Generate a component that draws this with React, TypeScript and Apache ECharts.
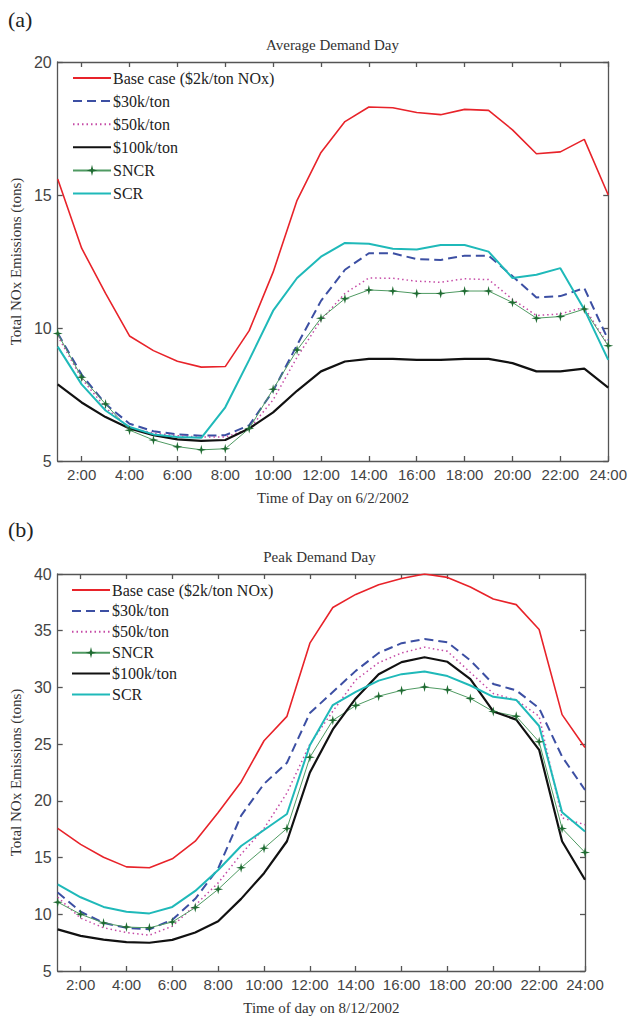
import React, { useEffect, useRef } from "react";
import * as echarts from "echarts";

const hours = [1, 2, 3, 4, 5, 6, 7, 8, 9, 10, 11, 12, 13, 14, 15, 16, 17, 18, 19, 20, 21, 22, 23, 24];
const hourTicks = [2, 4, 6, 8, 10, 12, 14, 16, 18, 20, 22, 24];

const legendBase = "Base case ($2k/ton NOx)";
const legend30k = "$30k/ton";
const legend50k = "$50k/ton";
const legend100k = "$100k/ton";
const legendSNCR = "SNCR";
const legendSCR = "SCR";

// (a) Average Demand Day, 6/2/2002
const avgBase = [15.6, 13.0, 11.3, 9.7, 9.15, 8.75, 8.53, 8.55, 9.9, 12.1, 14.8, 16.6, 17.76, 18.31, 18.28, 18.1, 18.02, 18.22, 18.18, 17.45, 16.55, 16.62, 17.09, 15.0];
const avg30k = [9.8, 8.25, 7.14, 6.4, 6.12, 6.0, 5.95, 5.97, 6.34, 7.64, 9.36, 11.02, 12.19, 12.81, 12.81, 12.59, 12.56, 12.72, 12.72, 11.95, 11.15, 11.2, 11.5, 9.55];
const avg50k = [9.7, 8.1, 7.0, 6.25, 6.05, 5.95, 5.9, 5.9, 6.2, 7.3, 8.9, 10.3, 11.3, 11.88, 11.87, 11.76, 11.72, 11.85, 11.82, 11.08, 10.47, 10.53, 10.78, 9.36];
const avg100k = [7.88, 7.2, 6.65, 6.22, 5.97, 5.81, 5.76, 5.79, 6.22, 6.83, 7.64, 8.37, 8.74, 8.84, 8.84, 8.8, 8.8, 8.84, 8.84, 8.68, 8.37, 8.37, 8.47, 7.76];
const avgSNCR = [9.79, 8.15, 7.14, 6.16, 5.79, 5.54, 5.42, 5.46, 6.22, 7.7, 9.17, 10.37, 11.1, 11.43, 11.39, 11.3, 11.3, 11.39, 11.39, 10.96, 10.37, 10.43, 10.71, 9.33];
const avgSCR = [9.3, 7.88, 6.9, 6.28, 6.0, 5.9, 5.87, 7.02, 8.8, 10.65, 11.88, 12.68, 13.2, 13.17, 12.98, 12.95, 13.12, 13.12, 12.87, 11.88, 12.0, 12.25, 10.7, 8.8];

// (b) Peak Demand Day, 8/12/2002
const peakBase = [17.57, 16.16, 15.03, 14.18, 14.1, 14.89, 16.44, 18.98, 21.67, 25.3, 27.45, 33.9, 37.05, 38.2, 39.05, 39.6, 40.0, 39.7, 38.85, 37.8, 37.3, 35.1, 27.6, 24.7];
const peak30k = [11.92, 10.23, 9.24, 8.81, 8.67, 9.52, 11.36, 14.04, 18.7, 21.5, 23.36, 27.74, 29.6, 31.46, 33.04, 33.9, 34.27, 33.98, 32.38, 30.3, 29.74, 28.17, 23.9, 20.96];
const peak50k = [11.5, 9.66, 8.81, 8.39, 8.16, 8.95, 10.8, 12.77, 15.3, 17.57, 20.7, 25.0, 27.9, 30.66, 32.18, 33.04, 33.55, 33.18, 31.32, 29.46, 28.9, 27.45, 18.5, 17.9];
const peakSNCR = [11.07, 10.0, 9.24, 8.87, 8.81, 9.32, 10.59, 12.2, 14.1, 15.82, 17.57, 23.84, 27.1, 28.4, 29.23, 29.74, 30.03, 29.8, 29.03, 27.88, 27.45, 25.2, 17.57, 15.45];
const peak100k = [8.67, 8.1, 7.77, 7.54, 7.49, 7.74, 8.39, 9.38, 11.36, 13.62, 16.44, 22.5, 26.3, 29.03, 31.17, 32.23, 32.66, 32.26, 30.74, 27.88, 27.16, 24.5, 16.44, 13.05];
const peakSCR = [12.63, 11.5, 10.65, 10.23, 10.08, 10.65, 12.06, 13.9, 16.02, 17.43, 18.84, 24.9, 28.45, 29.6, 30.6, 31.17, 31.4, 31.0, 30.17, 29.17, 28.9, 26.6, 19.0, 17.3];

const SERIF = "'Liberation Serif', 'Times New Roman', serif";
const SANS = "'Liberation Sans', Arial, sans-serif";
const STAR = "path://M0,-10 L2,-2 L10,0 L2,2 L0,10 L-2,2 L-10,0 L-2,-2 Z";

const styles: Record<string, any> = {
  [legendBase]: { lineStyle: { color: "#e8232a", width: 1.6, type: "solid" } },
  [legend30k]: { lineStyle: { color: "#3c4fa3", width: 2, type: [9, 5] } },
  [legend50k]: { lineStyle: { color: "#c54aa6", width: 1.5, type: [1.5, 3] } },
  [legend100k]: { lineStyle: { color: "#111111", width: 2.2, type: "solid" } },
  [legendSNCR]: { lineStyle: { color: "#4f9a62", width: 1, type: "solid" }, marker: true },
  [legendSCR]: { lineStyle: { color: "#1fb9b9", width: 2, type: "solid" } },
};

type PanelCfg = {
  tag: string;
  title: string;
  xName: string;
  yMax: number;
  left: number;
  right: number;
  top: number;
  height: number;
  legendTop: number;
  legendGap: number;
  labelMargin: number;
  order: string[];
  data: Record<string, number[]>;
};

function buildOption(c: PanelCfg) {
  const axisLineStyle = { color: "#555", width: 1.3 };
  const xBase = {
    type: "value",
    min: 1,
    max: 24,
    splitLine: { show: false },
    axisLine: { show: true, onZero: false, lineStyle: axisLineStyle },
    axisTick: { show: true, inside: true, length: 5, customValues: hourTicks, lineStyle: axisLineStyle },
  };
  const yBase = {
    type: "value",
    min: 5,
    max: c.yMax,
    interval: 5,
    splitLine: { show: false },
    axisLine: { show: true, onZero: false, lineStyle: axisLineStyle },
    axisTick: { show: true, inside: true, length: 5, lineStyle: axisLineStyle },
  };
  const plotCenter = c.left + (630 - c.left - c.right) / 2;
  return {
    animation: false,
    backgroundColor: "#ffffff",
    graphic: [
      {
        type: "text",
        left: 8,
        top: 8,
        style: { text: c.tag, font: `22px ${SERIF}`, fill: "#222" },
      },
      {
        type: "text",
        x: plotCenter,
        y: c.top - 17,
        style: {
          text: c.title,
          font: `15px ${SERIF}`,
          fill: "#333",
          textAlign: "center",
          textVerticalAlign: "middle",
        },
      },
    ],
    grid: { left: c.left, right: c.right, top: c.top, height: c.height, containLabel: false },
    legend: {
      orient: "vertical",
      left: c.left + 12,
      top: c.legendTop,
      itemWidth: 38,
      itemHeight: 14,
      itemGap: c.legendGap,
      data: c.order.map((name) =>
        styles[name].marker
          ? { name }
          : { name, itemStyle: { color: "rgba(0,0,0,0)", borderWidth: 0 } }
      ),
      textStyle: { fontFamily: SERIF, fontSize: 16, color: "#222", padding: [0, 0, 0, -3] },
      selectedMode: false,
    },
    xAxis: [
      {
        ...xBase,
        position: "bottom",
        axisLabel: {
          show: true,
          customValues: hourTicks,
          formatter: (v: number) => `${v}:00`,
          fontFamily: SANS,
          fontSize: 15,
          color: "#444",
          margin: c.labelMargin,
        },
        name: c.xName,
        nameLocation: "middle",
        nameGap: 29,
        nameTextStyle: { fontFamily: SERIF, fontSize: 15, color: "#333" },
      },
      { ...xBase, position: "top", axisLabel: { show: false } },
    ],
    yAxis: [
      {
        ...yBase,
        position: "left",
        axisLabel: { show: true, fontFamily: SANS, fontSize: 16, color: "#444", margin: 6 },
        name: "Total NOx Emissions (tons)",
        nameLocation: "middle",
        nameGap: 32,
        nameTextStyle: { fontFamily: SERIF, fontSize: 15, color: "#333" },
      },
      { ...yBase, position: "right", axisLabel: { show: false } },
    ],
    series: c.order.map((name) => {
      const st = styles[name];
      return {
        name,
        type: "line",
        xAxisIndex: 0,
        yAxisIndex: 0,
        data: hours.map((h, i) => [h, c.data[name][i]]),
        lineStyle: st.lineStyle,
        itemStyle: { color: st.marker ? "#1f6b32" : st.lineStyle.color },
        symbol: st.marker ? STAR : "none",
        symbolSize: st.marker ? 10 : 0,
        showSymbol: !!st.marker,
        emphasis: { disabled: true },
      };
    }),
  };
}

const panelA: PanelCfg = {
  tag: "(a)",
  title: "Average Demand Day",
  xName: "Time of Day on 6/2/2002",
  yMax: 20,
  left: 55,
  right: 20,
  top: 62,
  height: 406,
  legendTop: 65,
  legendGap: 7.1,
  labelMargin: 6,
  order: [legendBase, legend30k, legend50k, legend100k, legendSNCR, legendSCR],
  data: {
    [legendBase]: avgBase,
    [legend30k]: avg30k,
    [legend50k]: avg50k,
    [legend100k]: avg100k,
    [legendSNCR]: avgSNCR,
    [legendSCR]: avgSCR,
  },
};

const panelB: PanelCfg = {
  tag: "(b)",
  title: "Peak Demand Day",
  xName: "Time of day on 8/12/2002",
  yMax: 40,
  left: 54,
  right: 45,
  top: 64,
  height: 406,
  legendTop: 67,
  legendGap: 4.9,
  labelMargin: 6,
  order: [legendBase, legend30k, legend50k, legendSNCR, legend100k, legendSCR],
  data: {
    [legendBase]: peakBase,
    [legend30k]: peak30k,
    [legend50k]: peak50k,
    [legendSNCR]: peakSNCR,
    [legend100k]: peak100k,
    [legendSCR]: peakSCR,
  },
};

function Panel({ cfg, height }: { cfg: PanelCfg; height: number }) {
  const ref = useRef<HTMLDivElement>(null);
  useEffect(() => {
    if (!ref.current) return;
    const chart = echarts.init(ref.current, undefined, { renderer: "svg" });
    chart.setOption(buildOption(cfg) as any);
    return () => chart.dispose();
  }, [cfg]);
  return <div ref={ref} style={{ width: 630, height }} />;
}

export default function App() {
  useEffect(() => {
    document.body.style.margin = "0";
  }, []);
  return (
    <div style={{ position: "absolute", left: 0, top: 0, width: 630, height: 1020, background: "#fff" }}>
      <Panel cfg={panelA} height={510} />
      <Panel cfg={panelB} height={510} />
    </div>
  );
}
